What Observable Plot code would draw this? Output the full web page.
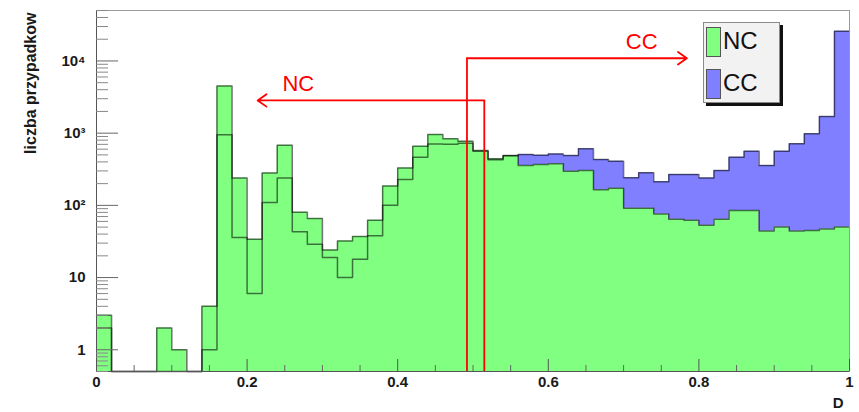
<!DOCTYPE html>
<html>
<head>
<meta charset="utf-8">
<script src="https://cdn.jsdelivr.net/npm/d3@7"></script>
<script src="https://cdn.jsdelivr.net/npm/@observablehq/plot@0.6"></script>
<style>
  body { margin: 0; background: #fff; }
  #wrap { position: relative; width: 859px; height: 412px; font-family: "Liberation Sans", Arial, Helvetica, sans-serif; }
  #legend { position: absolute; left: 703px; top: 22px; width: 75px; height: 79px; background: #f2f2f2; border: 1px solid #8a8a8a; box-shadow: 3px 3px 0 #111; }
  .sw { position: absolute; left: 2px; width: 13px; height: 28px; border: 1px solid #555; }
  .lt { position: absolute; left: 19px; height: 30px; line-height: 30px; font-size: 24px; color: #111; }
</style>
</head>
<body>
<div id="wrap"></div>
<script>
// ---- data ----
const binWidth = 0.02;            // 50 bins over D in [0, 1]
const nc = [3, 0, 0, 0, 2, 1, 0, 4, 4500, 240,
            34, 280, 680, 80, 66, 24, 32, 37, 62, 185,
            330, 660, 960, 835, 775, 575, 442, 491, 357, 369,
            377, 298, 304, 164, 173, 91, 91, 76, 64, 62,
            53, 64, 85, 85, 44, 50, 44, 45, 47, 50];
const cc = [2, 0, 0, 0, 0, 0, 0, 1, 950, 36,
            6, 110, 240, 43, 29, 19, 10, 18, 38, 100,
            228, 465, 710, 700, 725, 560, 430, 485, 505, 495,
            515, 490, 608, 432, 409, 241, 283, 212, 268, 268,
            240, 304, 465, 563, 357, 563, 713, 981, 1700, 25900];
const seriesNames = ["NC", "CC"];
const seriesColors = ["#80ff80", "#7f7fff"];
const yDomain = [0.5, 50000];
const xDomain = [0, 1];
const yTicksMajor = [1, 10, 100, 1000, 10000];
const xTicksMajor = [0, 0.2, 0.4, 0.6, 0.8, 1];
const xMinorStep = 0.05;
const annLabels = ["CC", "NC"];
const annCut = [0.492, 0.515];
const annLevel = [10900, 2840];
const annTip = [0.784, 0.214];
const annTextX = [0.724, 0.268];
const annTextY = [18200, 4770];
const xTitle = "D";
const yTitle = "liczba przypadkow";

// ---- derived tables ----
const yMin = yDomain[0];
const pts = nc.flatMap((v, i) => [0, 1].map(e => ({x: (i + e) * binWidth, nc: v, cc: cc[i]})));
const yMinor = d3.scaleLog().domain(yDomain).ticks().filter(t => !yTicksMajor.includes(t));
const xMinor = d3.range(xDomain[0], xDomain[1] + 1e-9, xMinorStep)
  .map(v => +v.toFixed(4)).filter(v => !xTicksMajor.some(m => Math.abs(m - v) < 1e-6));
const sup = {"0":"⁰","1":"¹","2":"²","3":"³","4":"⁴","5":"⁵","6":"⁶","7":"⁷","8":"⁸","9":"⁹"};
const fmtY = v => v < 100 ? String(v) : "10" + String(Math.round(Math.log10(v))).split("").map(c => sup[c]).join("");
const ann = annLabels.map((_, i) => i);

const chart = Plot.plot({
  width: 859,
  height: 412,
  marginLeft: 96,
  marginRight: 10,
  marginTop: 10,
  marginBottom: 41,
  style: {fontFamily: "'Liberation Sans', Arial, Helvetica, sans-serif", background: "#fff"},
  x: {domain: xDomain, axis: null},
  y: {type: "log", domain: yDomain, axis: null},
  marks: [
    Plot.areaY(pts, {x: "x", y1: yMin, y2: d => Math.max(d.nc, yMin), fill: seriesColors[0], curve: "linear"}),
    Plot.areaY(pts, {x: "x", y1: d => Math.max(d.nc, yMin), y2: d => Math.max(d.cc, d.nc, yMin), fill: seriesColors[1], curve: "linear"}),
    Plot.line(pts, {x: "x", y: d => Math.max(d.cc, yMin), stroke: "#000", strokeOpacity: 0.55, strokeWidth: 1.5, curve: "linear"}),
    Plot.line(pts, {x: "x", y: d => Math.max(d.nc, yMin), stroke: "#000", strokeOpacity: 0.55, strokeWidth: 1.5, curve: "linear"}),
    Plot.frame({stroke: "#9a9a9a"}),
    Plot.ruleX([xDomain[0]], {stroke: "#555"}),
    Plot.ruleY([yMin], {stroke: "#555"}),
    // y ticks (inward)
    Plot.axisY(yTicksMajor, {anchor: "left", tickSize: 22, dx: 22, fill: "none", stroke: "#666", label: null}),
    Plot.axisY(yMinor, {anchor: "left", tickSize: 12, dx: 12, fill: "none", stroke: "#888", label: null}),
    Plot.axisY(yTicksMajor, {anchor: "left", tickSize: 0, tickPadding: 11, tickFormat: fmtY, fontSize: 15, fontWeight: "bold", fill: "#1a1a1a", label: null}),
    // x ticks (inward)
    Plot.axisX(xTicksMajor, {anchor: "bottom", tickSize: 12, dy: -12, fill: "none", stroke: "#555", label: null}),
    Plot.axisX(xMinor, {anchor: "bottom", tickSize: 6, dy: -6, fill: "none", stroke: "#666", label: null}),
    Plot.axisX(xTicksMajor, {anchor: "bottom", tickSize: 0, tickPadding: 5, tickFormat: d => String(d), fontSize: 15, fontWeight: "bold", fill: "#1a1a1a", label: null}),
    // titles
    Plot.text([xTitle], {frameAnchor: "bottom-right", text: d => d, dy: 36, dx: -6, fontSize: 15, fontWeight: "bold", fill: "#1a1a1a"}),
    Plot.text([yTitle], {frameAnchor: "top-left", text: d => d, rotate: -90, textAnchor: "end", dx: -72, dy: 2, fontSize: 16, fontWeight: "bold", fill: "#1a1a1a"}),
    // cut annotations
    Plot.ruleX(ann, {x: i => annCut[i], y1: yMin, y2: i => annLevel[i], stroke: "#ff0000", strokeWidth: 1.8}),
    Plot.arrow(ann, {x1: i => annCut[i], y1: i => annLevel[i], x2: i => annTip[i], y2: i => annLevel[i], stroke: "#ff0000", strokeWidth: 1.8, headLength: 9, headAngle: 70}),
    Plot.text(ann, {x: i => annTextX[i], y: i => annTextY[i], text: i => annLabels[i], fill: "#ff0000", fontSize: 22})
  ]
});

const wrap = document.getElementById("wrap");
wrap.appendChild(chart);

// legend (drawn inside the frame, as in the reference)
const legend = document.createElement("div");
legend.id = "legend";
seriesNames.forEach((name, i) => {
  const sw = document.createElement("div");
  sw.className = "sw";
  sw.style.top = (4 + i * 42) + "px";
  sw.style.background = seriesColors[i];
  legend.appendChild(sw);
  const t = document.createElement("div");
  t.className = "lt";
  t.style.top = (3 + i * 42) + "px";
  t.textContent = name;
  legend.appendChild(t);
});
wrap.appendChild(legend);
</script>
</body>
</html>
